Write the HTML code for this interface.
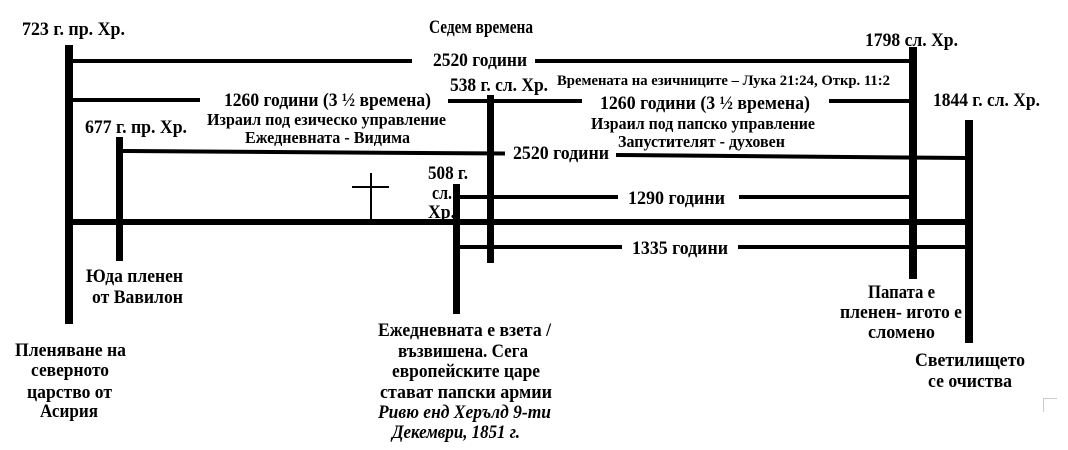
<!DOCTYPE html>
<html><head><meta charset="utf-8"><style>
html,body{margin:0;padding:0;background:#fff;}
svg{display:block}
text{font-family:"Liberation Serif","DejaVu Serif",serif;font-weight:bold;fill:#000;}
</style></head><body>
<svg width="1068" height="450" viewBox="0 0 1068 450" xmlns="http://www.w3.org/2000/svg">
<g fill="#000">
<rect x="65" y="45" width="8" height="279"/>
<rect x="116" y="137" width="7" height="124"/>
<rect x="453" y="184" width="7" height="130"/>
<rect x="487" y="95" width="7" height="168"/>
<rect x="909" y="47" width="8" height="232"/>
<rect x="965" y="120" width="8" height="223"/>
<rect x="68" y="219" width="904" height="6"/>
<rect x="72" y="59" width="340" height="4"/>
<rect x="535" y="59" width="377" height="4"/>
<rect x="72" y="98" width="128" height="4"/>
<rect x="448" y="99" width="134" height="4"/>
<rect x="829" y="99" width="83" height="4"/>
<rect x="460" y="195" width="158" height="4"/>
<rect x="739" y="195" width="173" height="4"/>
<rect x="460" y="245" width="162" height="4"/>
<rect x="738" y="245" width="230" height="4"/>
</g>
<line x1="122" y1="151" x2="505" y2="153.5" stroke="#000" stroke-width="4"/>
<line x1="616" y1="155" x2="968" y2="158" stroke="#000" stroke-width="4"/>
<line x1="371" y1="173" x2="371" y2="221" stroke="#000" stroke-width="2"/>
<line x1="352" y1="187" x2="389" y2="187" stroke="#000" stroke-width="2"/>
<path d="M1043.5 412 V398.5 H1057" fill="none" stroke="#ccc" stroke-width="1"/>

<g font-size="19">
<text x="22" y="35" textLength="103" lengthAdjust="spacingAndGlyphs">723 г. пр. Хр.</text>
<text x="429" y="33" textLength="104" lengthAdjust="spacingAndGlyphs">Седем времена</text>
<text x="865" y="46" textLength="93" lengthAdjust="spacingAndGlyphs">1798 сл. Хр.</text>
<text x="433" y="66" textLength="94" lengthAdjust="spacingAndGlyphs">2520 години</text>
<text x="450" y="91" textLength="98" lengthAdjust="spacingAndGlyphs">538 г. сл. Хр.</text>
<text x="557" y="85" font-size="15" textLength="333" lengthAdjust="spacingAndGlyphs">Времената на езичниците – Лука 21:24, Откр. 11:2</text>
<text x="933" y="106" textLength="107" lengthAdjust="spacingAndGlyphs">1844 г. сл. Хр.</text>
<text x="224" y="106" textLength="207" lengthAdjust="spacingAndGlyphs">1260 години (3 ½ времена)</text>
<text x="600" y="109" textLength="210" lengthAdjust="spacingAndGlyphs">1260 години (3 ½ времена)</text>
<text x="207" y="125" font-size="17" textLength="239" lengthAdjust="spacingAndGlyphs">Израил под езическо управление</text>
<text x="245" y="143" font-size="17" textLength="165" lengthAdjust="spacingAndGlyphs">Ежедневната - Видима</text>
<text x="85" y="133" textLength="102" lengthAdjust="spacingAndGlyphs">677 г. пр. Хр.</text>
<text x="591" y="129" font-size="17" textLength="224" lengthAdjust="spacingAndGlyphs">Израил под папско управление</text>
<text x="618" y="147" font-size="17" textLength="167" lengthAdjust="spacingAndGlyphs">Запустителят - духовен</text>
<text x="513" y="159" textLength="96" lengthAdjust="spacingAndGlyphs">2520 години</text>
<text x="428" y="179" textLength="40" lengthAdjust="spacingAndGlyphs">508 г.</text>
<text x="432" y="199" textLength="20" lengthAdjust="spacingAndGlyphs">сл.</text>
<text x="428" y="218" textLength="27" lengthAdjust="spacingAndGlyphs">Хр.</text>
<text x="628" y="204" textLength="97" lengthAdjust="spacingAndGlyphs">1290 години</text>
<text x="632" y="254" textLength="96" lengthAdjust="spacingAndGlyphs">1335 години</text>
<text x="86" y="282" textLength="97" lengthAdjust="spacingAndGlyphs">Юда пленен</text>
<text x="92" y="303" textLength="91" lengthAdjust="spacingAndGlyphs">от Вавилон</text>
<text x="15" y="356" textLength="111" lengthAdjust="spacingAndGlyphs">Пленяване на</text>
<text x="31" y="376" textLength="78" lengthAdjust="spacingAndGlyphs">северното</text>
<text x="27" y="398" textLength="85" lengthAdjust="spacingAndGlyphs">царство от</text>
<text x="40" y="417" textLength="58" lengthAdjust="spacingAndGlyphs">Асирия</text>
<text x="378" y="336" textLength="173" lengthAdjust="spacingAndGlyphs">Ежедневната е взета /</text>
<text x="398" y="357" textLength="130" lengthAdjust="spacingAndGlyphs">възвишена. Сега</text>
<text x="392" y="377" textLength="148" lengthAdjust="spacingAndGlyphs">европейските царе</text>
<text x="380" y="398" textLength="172" lengthAdjust="spacingAndGlyphs">стават папски армии</text>
<text x="378" y="418" font-style="italic" textLength="173" lengthAdjust="spacingAndGlyphs">Ривю енд Херълд 9-ти</text>
<text x="392" y="438" font-style="italic" textLength="128" lengthAdjust="spacingAndGlyphs">Декември, 1851 г.</text>
<text x="868" y="298" textLength="67" lengthAdjust="spacingAndGlyphs">Папата е</text>
<text x="840" y="318" textLength="122" lengthAdjust="spacingAndGlyphs">пленен- игото е</text>
<text x="868" y="338" textLength="67" lengthAdjust="spacingAndGlyphs">сломено</text>
<text x="915" y="366" textLength="110" lengthAdjust="spacingAndGlyphs">Светилището</text>
<text x="928" y="387" textLength="84" lengthAdjust="spacingAndGlyphs">се очиства</text>
</g>
</svg>
</body></html>
